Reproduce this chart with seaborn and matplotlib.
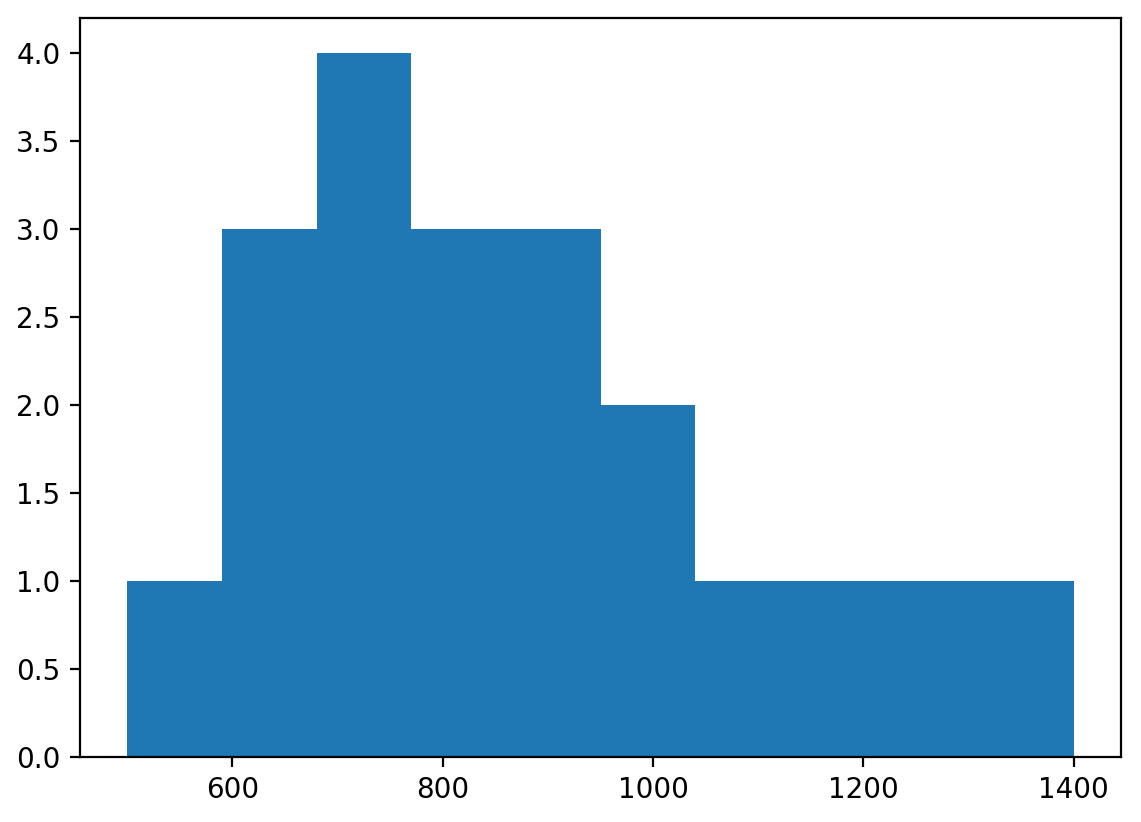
import matplotlib
matplotlib.use("Agg")
import matplotlib.pyplot as plt
import seaborn as sns
import numpy as np

bin_edges = [500, 590, 680, 770, 860, 950, 1040, 1130, 1220, 1310, 1400]
counts = [1, 3, 4, 3, 3, 2, 1, 1, 1, 1]

centers = [(a + b) / 2 for a, b in zip(bin_edges[:-1], bin_edges[1:])]

fig, ax = plt.subplots(figsize=(1141 / 200, 822 / 200))
fig.subplots_adjust(left=80 / 1141, right=1121 / 1141, top=1 - 18 / 822, bottom=1 - 757 / 822)
sns.histplot(x=centers, weights=counts, bins=bin_edges, ax=ax,
             color="#1f77b4", alpha=1.0, edgecolor="none", linewidth=0)
ax.set_xlabel("")
ax.set_ylabel("")
ax.set_yticks(np.arange(0, 4.01, 0.5))
ax.margins(x=0.05, y=0.05)
ax.set_ylim(0, 4.2)
fig.savefig("out.png", dpi=200)
